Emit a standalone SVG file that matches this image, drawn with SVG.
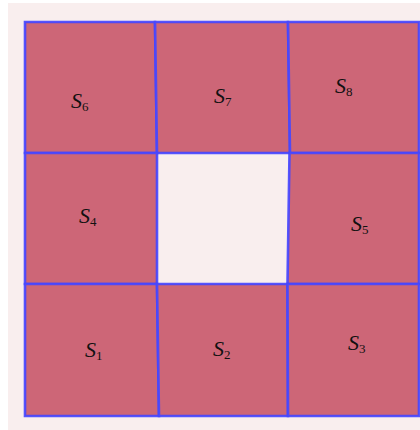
<svg xmlns="http://www.w3.org/2000/svg" width="420" height="430" viewBox="0 0 420 430">
<style>
.cell{fill:#cd6677;stroke:#4646ff;stroke-width:2.6;stroke-linejoin:miter;stroke-opacity:0.92}
.lbl{font-family:"Liberation Serif","DejaVu Serif",serif;font-size:22px;fill:#111111}
.s{font-style:italic}
.sub{font-size:13px}
</style>
<rect x="0" y="0" width="420" height="430" fill="#ffffff"/>
<rect x="8" y="3" width="412" height="427" fill="#f9eeee"/>
<g id="cells">
<g id="S6"><polygon class="cell" points="25,22 155,22 157,153 25,153"/><text class="lbl" x="71" y="108"><tspan class="s">S</tspan><tspan class="sub" dy="3">6</tspan></text></g>
<g id="S7"><polygon class="cell" points="155,22 288,22 290,153 157,153"/><text class="lbl" x="214" y="103"><tspan class="s">S</tspan><tspan class="sub" dy="3">7</tspan></text></g>
<g id="S8"><polygon class="cell" points="288,22 419,22 419,153 290,153"/><text class="lbl" x="335" y="93"><tspan class="s">S</tspan><tspan class="sub" dy="3">8</tspan></text></g>
<g id="S4"><polygon class="cell" points="25,153 157,153 157,284 25,284"/><text class="lbl" x="79" y="223"><tspan class="s">S</tspan><tspan class="sub" dy="3">4</tspan></text></g>
<g id="S5"><polygon class="cell" points="289.5,153 419,153 419,284 287.5,284"/><text class="lbl" x="351" y="231"><tspan class="s">S</tspan><tspan class="sub" dy="3">5</tspan></text></g>
<g id="S1"><polygon class="cell" points="25,284 157,284 159,416 25,416"/><text class="lbl" x="85" y="357"><tspan class="s">S</tspan><tspan class="sub" dy="3">1</tspan></text></g>
<g id="S2"><polygon class="cell" points="157,284 287.5,284 288,416 159,416"/><text class="lbl" x="213" y="356"><tspan class="s">S</tspan><tspan class="sub" dy="3">2</tspan></text></g>
<g id="S3"><polygon class="cell" points="287.5,284 419,284 419,416 288,416"/><text class="lbl" x="348" y="350"><tspan class="s">S</tspan><tspan class="sub" dy="3">3</tspan></text></g>
</g>
<g id="connectors"></g>
</svg>
